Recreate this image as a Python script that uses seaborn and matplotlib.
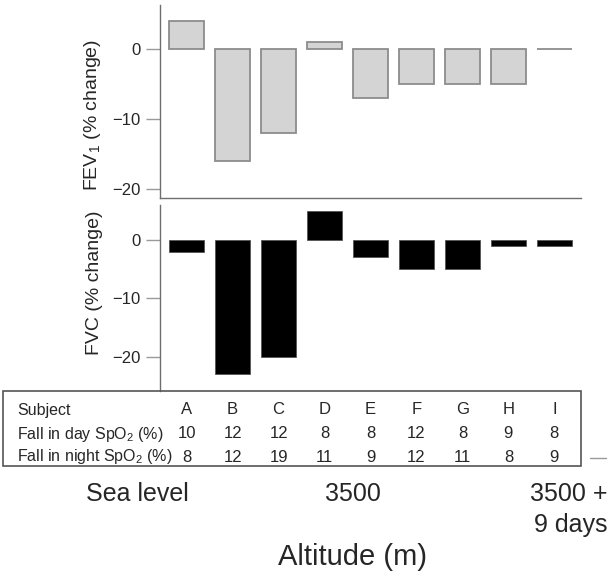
import numpy as np
import pandas as pd
import matplotlib
matplotlib.use('Agg')
import matplotlib.pyplot as plt
import matplotlib.transforms as mtransforms
from matplotlib.patches import Rectangle
from matplotlib.lines import Line2D
import seaborn as sns

sns.set_style('white')
plt.rcParams['font.family'] = ['Liberation Sans', 'DejaVu Sans']
plt.rcParams['mathtext.fontset'] = 'custom'
plt.rcParams['mathtext.rm'] = 'Liberation Sans'
plt.rcParams['mathtext.it'] = 'Liberation Sans:italic'

# datos
sujetos = ['A', 'B', 'C', 'D', 'E', 'F', 'G', 'H', 'I']
fev1 = [4, -16, -12, 1, -7, -5, -5, -5, 0]
fvc = [-2, -23, -20, 5, -3, -5, -5, -1, -1]
caida_dia = [10, 12, 12, 8, 8, 12, 8, 9, 8]
caida_noche = [8, 12, 19, 11, 9, 12, 11, 8, 9]
ticks_y = [0, -10, -20]

df = pd.DataFrame({'Subject': sujetos, 'FEV1': fev1, 'FVC': fvc})

W, H = 616, 579
fig = plt.figure(figsize=(W / 100, H / 100), dpi=100)

def caja(x0, y0, x1, y1):
    # pixeles -> fraccion de figura
    return [x0 / W, 1 - y1 / H, (x1 - x0) / W, (y1 - y0) / H]

gris = '#6e6e6e'

ax1 = fig.add_axes(caja(160, 5, 581, 198))
ax2 = fig.add_axes(caja(160, 205, 581, 391))

sns.barplot(data=df, x='Subject', y='FEV1', order=sujetos, color='#d4d4d4',
            edgecolor='#8c8c8c', linewidth=1.3, width=0.76, saturation=1, ax=ax1)
sns.barplot(data=df, x='Subject', y='FVC', order=sujetos, color='black',
            edgecolor='#555555', linewidth=0.6, width=0.76, saturation=1, ax=ax2)

ax1.set_ylim(-21.3, 6.3)
ax2.set_ylim(-25.9, 6.0)

for ax in (ax1, ax2):
    ax.set_xlim(-0.58, 8.58)
    ax.set_xticks([])
    ax.set_xlabel('')
    ax.set_yticks(ticks_y)
    ax.set_yticklabels(['0', '\u221210', '\u221220'])
    ax.tick_params(axis='y', length=10, width=1, color='#999999', direction='out',
                   labelsize=12, pad=4, left=True)
    for s in ['top', 'right']:
        ax.spines[s].set_visible(False)
    ax.spines['left'].set_color(gris)
    ax.spines['left'].set_linewidth(1)

ax1.spines['bottom'].set_color(gris)
ax1.spines['bottom'].set_linewidth(1)
ax2.spines['bottom'].set_visible(False)

ax1.set_ylabel('FEV$_1$ (% change)', fontsize=14)
ax2.set_ylabel('FVC (% change)', fontsize=14)
ax1.yaxis.set_label_coords(-0.136, 0.43)
ax2.yaxis.set_label_coords(-0.136, 0.58)

# tabla inferior
fig.add_artist(Rectangle((3 / W, 1 - 466 / H), (581 - 3) / W, (466 - 391) / H,
                         transform=fig.transFigure, fill=False,
                         edgecolor='#555555', linewidth=1.2))
fig.add_artist(Line2D([590 / W, 606 / W], [1 - 458 / H, 1 - 458 / H],
                      transform=fig.transFigure, color='#999999', linewidth=1))

trans = mtransforms.blended_transform_factory(ax2.transData, fig.transFigure)
filas = [('Subject', sujetos, 410),
         ('Fall in day SpO$_2$ (%)', caida_dia, 434),
         ('Fall in night SpO$_2$ (%)', caida_noche, 457)]
for etiqueta, valores, yp in filas:
    fig.text(17 / W, 1 - yp / H, etiqueta, ha='left', va='center', fontsize=11.5)
    for i, v in enumerate(valores):
        fig.text(i, 1 - yp / H, str(v), transform=trans, ha='center', va='center',
                 fontsize=12)

fig.text(137 / W, 1 - 494 / H, 'Sea level', ha='center', va='center', fontsize=18)
fig.text(353 / W, 1 - 494 / H, '3500', ha='center', va='center', fontsize=18)
fig.text(607 / W, 1 - 494 / H, '3500 +', ha='right', va='center', fontsize=18)
fig.text(607 / W, 1 - 525 / H, '9 days', ha='right', va='center', fontsize=18)
fig.text(352 / W, 1 - 557 / H, 'Altitude (m)', ha='center', va='center', fontsize=21)

fig.savefig('out.png', dpi=100)
